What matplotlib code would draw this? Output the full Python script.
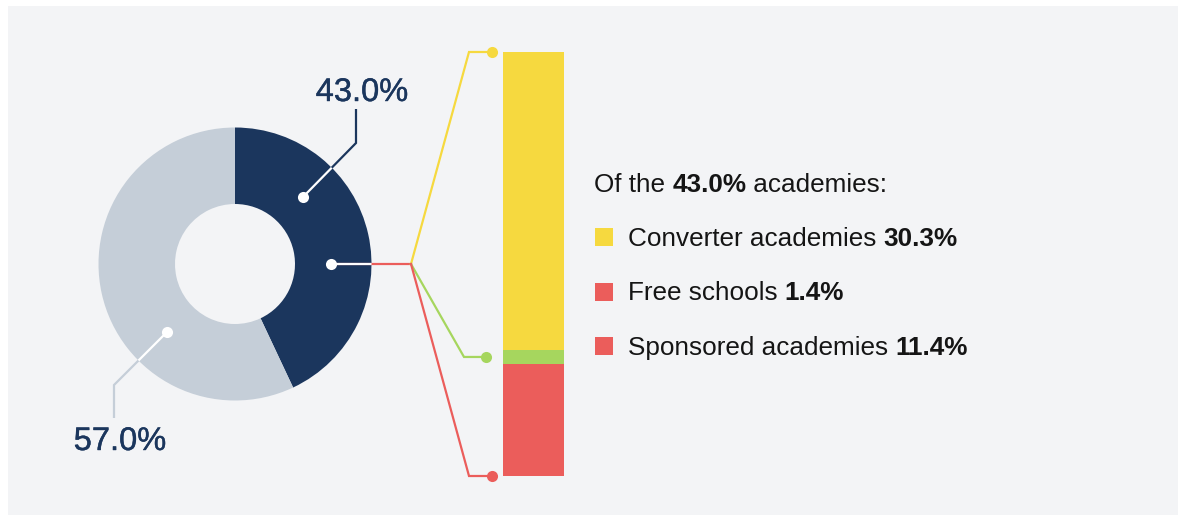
import matplotlib
matplotlib.use("Agg")
import matplotlib.pyplot as plt
from matplotlib.patches import Rectangle
import matplotlib.patheffects as pe

# ---------------- data ----------------
donut_labels = ["Academies", "Other schools"]
donut_values = [43.0, 57.0]
donut_colors = ["#1b365d", "#c5ced8"]

bar_labels = ["Converter academies", "Free schools", "Sponsored academies"]
bar_values = [30.3, 1.4, 11.4]
bar_colors = ["#f6d93f", "#a6d65e", "#eb5d5b"]
legend_colors = ["#f6d93f", "#eb5d5b", "#eb5d5b"]

# ---------------- figure ----------------
W, H = 1178, 515
fig = plt.figure(figsize=(W / 100, H / 100), dpi=100)
fig.patch.set_facecolor("white")
ax = fig.add_axes([0, 0, 1, 1])
ax.set_xlim(0, W)
ax.set_ylim(H, 0)          # pixel-like coordinates, y downwards
ax.set_aspect("equal")
ax.axis("off")

FONT = ["Liberation Sans", "DejaVu Sans"]
BG = "#f3f4f6"
NAVY = "#1b365d"
TXT = "#151515"

ax.add_patch(Rectangle((8, 6), W - 8, H - 6, facecolor=BG, edgecolor="none", zorder=0))

# ---------------- donut ----------------
cx, cy, R, r_in = 235, 264, 136.5, 60
wedges, _ = ax.pie(donut_values, colors=donut_colors, startangle=-90, counterclock=True,
                   center=(cx, cy), radius=R, frame=True,
                   wedgeprops=dict(width=R - r_in, edgecolor="none", linewidth=0))
ax.set_xlim(0, W)
ax.set_ylim(H, 0)
ax.axis("off")

LW = 1.6


def leader(pts, color, clip_wedge, dot=True, dot_color="white"):
    xs = [p[0] for p in pts]
    ys = [p[1] for p in pts]
    ax.plot(xs, ys, color=color, lw=LW, solid_capstyle="butt", solid_joinstyle="miter", zorder=3)
    ln, = ax.plot(xs, ys, color="white", lw=LW, solid_capstyle="butt", zorder=4)
    ln.set_clip_path(clip_wedge)
    if dot:
        ax.plot([xs[0]], [ys[0]], "o", color=dot_color, ms=8, mec="none", zorder=5)


bold_fx = [pe.withStroke(linewidth=0.3, foreground=NAVY)]

# 43.0% leader
leader([(303, 197), (356, 143), (356, 109)], NAVY, wedges[0])
ax.text(362, 101, f"{donut_values[0]:.1f}%", color=NAVY, fontsize=23.5, family=FONT,
        ha="center", va="baseline", zorder=6, path_effects=bold_fx)

# 57.0% leader
leader([(167, 332), (114, 385), (114, 418)], donut_colors[1], wedges[1])
ax.text(120, 450, f"{donut_values[1]:.1f}%", color=NAVY, fontsize=23.5, family=FONT,
        ha="center", va="baseline", zorder=6, path_effects=bold_fx)

# ---------------- stacked bar ----------------
bar_x0, bar_w = 503, 61
bar_top, bar_bot = 52, 476
total = sum(bar_values)
scale = (bar_bot - bar_top) / total
bottoms = []
acc = 0.0
for v in bar_values:
    bottoms.append(bar_top + acc * scale)
    acc += v
heights = [v * scale for v in bar_values]
ax.bar([bar_x0 + bar_w / 2] * len(bar_values), heights, bottom=bottoms, width=bar_w,
       color=bar_colors, edgecolor="none", linewidth=0, zorder=2)

# connectors from donut
hub = (411, 264)
ax.plot([331, hub[0]], [264, 264], color=bar_colors[2], lw=LW, zorder=3)
ln, = ax.plot([331, hub[0]], [264, 264], color="white", lw=LW, zorder=4)
ln.set_clip_path(wedges[0])
ax.plot([331], [264], "o", color="white", ms=8, mec="none", zorder=5)

seg_top = bottoms[0]
seg_mid = bottoms[1] + heights[1] / 2
seg_bot = bottoms[2] + heights[2]
targets = [(seg_top, 469, 492), (seg_mid, 464, 486), (seg_bot, 469, 492)]
for (ty, ex, dx), col in zip(targets, bar_colors):
    ax.plot([hub[0], ex, dx], [hub[1], ty, ty], color=col, lw=LW,
            solid_joinstyle="miter", zorder=3)
    ax.plot([dx], [ty], "o", color=col, ms=8, mec="none", zorder=5)

# ---------------- legend text ----------------
fig.canvas.draw()
renderer = fig.canvas.get_renderer()
FS = 18.8


def mixed(x, y, parts):
    for txt, bold in parts:
        t = ax.text(x, y, txt, fontsize=FS, family=FONT, color=TXT,
                    fontweight="bold" if bold else "normal", ha="left", va="baseline")
        bb = t.get_window_extent(renderer=renderer)
        x = ax.transData.inverted().transform((bb.x1, bb.y0))[0]


mixed(594, 192, [("Of the ", False), (f"{donut_values[0]:.1f}%", True), (" academies:", False)])
rows_y = [237, 292, 346]
base_y = [245.5, 300.5, 355]
for lab, val, col, y, by in zip(bar_labels, bar_values, legend_colors, rows_y, base_y):
    ax.add_patch(Rectangle((595, y - 9), 18, 18, facecolor=col, edgecolor="none", zorder=3))
    mixed(628, by, [(lab + " ", False), (f"{val:.1f}%", True)])

fig.savefig("out.png", dpi=100, facecolor="white")
